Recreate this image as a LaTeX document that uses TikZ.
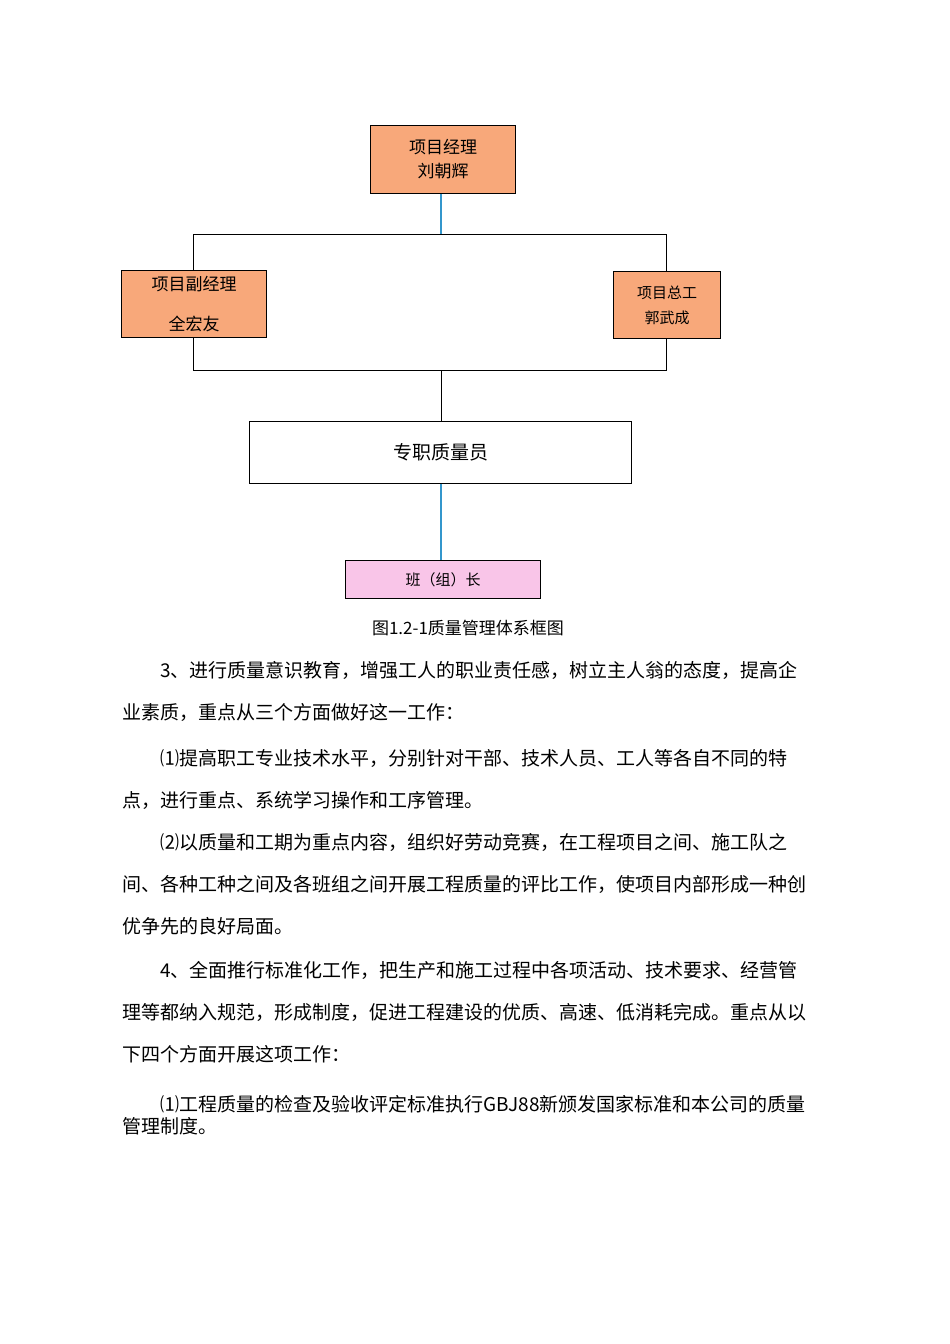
\documentclass[tikz,border=0pt]{standalone}
\usepackage{fontspec}
\setmainfont{Noto Sans CJK SC}
\begin{document}
\begin{tikzpicture}[x=1pt,y=-1pt,
 box/.style={draw,line width=1pt,anchor=north west,inner sep=0pt},
 bl/.style={draw=blue!35!cyan!60!gray,line width=1.5pt},
 ln/.style={draw,line width=1pt},
 para/.style={anchor=west,inner sep=0pt,font=\fontsize{19}{20}\selectfont}]
\useasboundingbox (0,0) rectangle (950,1344);
\definecolor{org}{HTML}{F8A87A}
\definecolor{pnk}{HTML}{F9C5E8}
\node[box,fill=org,minimum width=145,minimum height=68,align=center,font=\fontsize{17}{24}\selectfont] (pm) at (370,125) {项目经理\\刘朝辉};
\coordinate (top) at (441,234);
\draw[ln] (193,234) rectangle (666,370);
\node[box,fill=org,minimum width=145,minimum height=67,align=center,font=\fontsize{17}{40}\selectfont] (vp) at (121,270) {项目副经理\\全宏友};
\node[box,fill=org,minimum width=107,minimum height=67,align=center,font=\fontsize{15}{25}\selectfont] (ce) at (613,271) {项目总工\\郭武成};
\node[box,fill=white,minimum width=382,minimum height=62,font=\fontsize{19}{22}\selectfont] (q) at (249,421) {专职质量员};
\node[box,fill=pnk,minimum width=195,minimum height=38,font=\fontsize{15}{18}\selectfont] (bz) at (345,560) {班（组）长};
\coordinate (bot) at (441,370);
\draw[bl] (pm.south -| top) -- (top);
\draw[ln] (bot) -- (q.north -| bot);
\draw[bl] (q.south -| bot) -- (bz.north -| bot);
\node[font=\fontsize{17}{20}\selectfont] (cap) at (468,628) {图1.2-1质量管理体系框图};
\node[para] (l1) at (160,670) {3、进行质量意识教育，增强工人的职业责任感，树立主人翁的态度，提高企};
\node[para] (l2) at (122,712) {业素质，重点从三个方面做好这一工作：};
\node[para] (l3) at (160,758) {⑴提高职工专业技术水平，分别针对干部、技术人员、工人等各自不同的特};
\node[para] (l4) at (122,800) {点，进行重点、系统学习操作和工序管理。};
\node[para] (l5) at (160,842) {⑵以质量和工期为重点内容，组织好劳动竞赛，在工程项目之间、施工队之};
\node[para] (l6) at (122,884) {间、各种工种之间及各班组之间开展工程质量的评比工作，使项目内部形成一种创};
\node[para] (l7) at (122,926) {优争先的良好局面。};
\node[para] (l8) at (160,970) {4、全面推行标准化工作，把生产和施工过程中各项活动、技术要求、经营管};
\node[para] (l9) at (122,1012) {理等都纳入规范，形成制度，促进工程建设的优质、高速、低消耗完成。重点从以};
\node[para] (l10) at (122,1054) {下四个方面开展这项工作：};
\node[para] (l11) at (160,1104) {⑴工程质量的检查及验收评定标准执行GBJ88新颁发国家标准和本公司的质量};
\node[para] (l12) at (122,1126) {管理制度。};
\end{tikzpicture}
\end{document}
